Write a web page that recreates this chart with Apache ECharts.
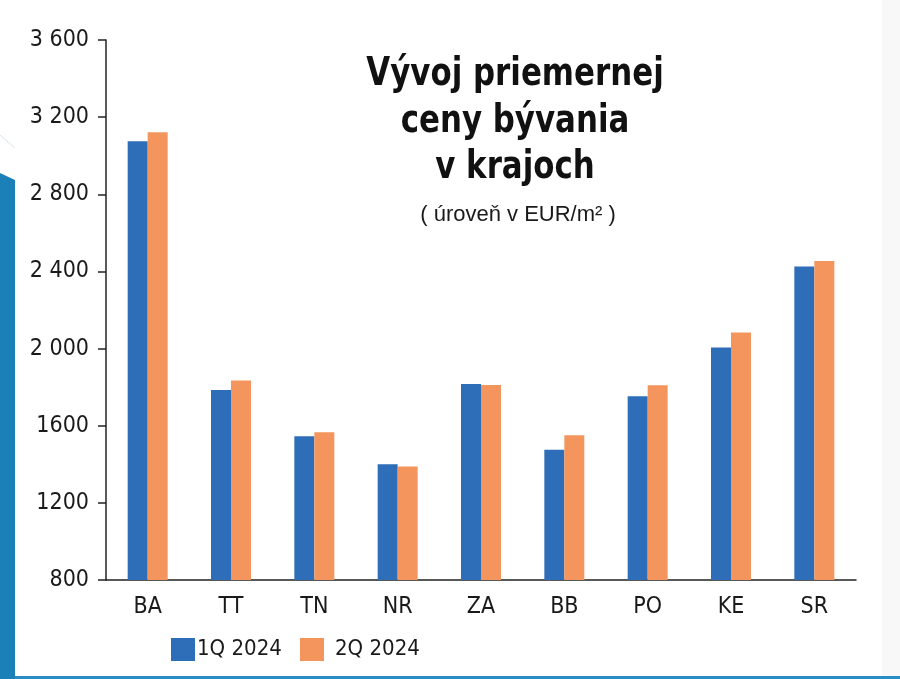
<!DOCTYPE html>
<html>
<head>
<meta charset="utf-8">
<style>
html,body{margin:0;padding:0;background:#fff;}
#chart{width:900px;height:679px;}
</style>
<script src="https://cdn.jsdelivr.net/npm/echarts@6/dist/echarts.min.js"></script>
</head>
<body>
<div id="chart"></div>
<script>
// ---- data ----
const categories = ['BA', 'TT', 'TN', 'NR', 'ZA', 'BB', 'PO', 'KE', 'SR'];
const q1_2024 = [3075, 1785, 1545, 1400, 1816, 1476, 1753, 2006, 2425];
const q2_2024 = [3122, 1834, 1566, 1388, 1811, 1550, 1810, 2083, 2454];
const seriesNames = ['1Q 2024', '2Q 2024'];
const yTickLabels = ['800', '1200', '1600', '2 000', '2 400', '2 800', '3 200', '3 600'];
const titleLines = ['Vývoj priemernej', 'ceny bývania', 'v krajoch'];
const subtitle = '( úroveň v EUR/m² )';

const NARROW = '"DejaVu Sans Condensed", "Liberation Sans Narrow", "Liberation Sans", sans-serif';
const REG = '"Liberation Sans", "DejaVu Sans", sans-serif';
const TXT = '#1a1a1a';
const BLUE = '#2e6db7';
const ORANGE = '#f4955e';

const chart = echarts.init(document.getElementById('chart'), null, {renderer: 'canvas'});

const titleY = [75, 122, 168];
const graphics = [
  {type: 'rect', shape: {x: 882, y: 0, width: 18, height: 676}, style: {fill: '#f8f8f8'}, z: -10},
  {type: 'polygon', shape: {points: [[0, 173], [15, 180], [15, 679], [0, 679]]}, style: {fill: '#1a80b7'}, z: -5},
  {type: 'line', shape: {x1: 0, y1: 135, x2: 15, y2: 148}, style: {stroke: '#d8e4ec', lineWidth: 1}, z: -5},
  {type: 'rect', shape: {x: 15, y: 676, width: 885, height: 3}, style: {fill: '#2a8cc4'}, z: -5}
];
titleLines.forEach((t, i) => {
  graphics.push({
    type: 'text', x: 515, y: titleY[i], scaleX: 0.88, z: 10,
    style: {text: t, fill: '#111', font: 'bold 39px ' + NARROW, textAlign: 'center', textVerticalAlign: 'middle'}
  });
});
graphics.push({
  type: 'text', x: 518, y: 215, z: 10,
  style: {text: subtitle, fill: TXT, font: '22px ' + REG, textAlign: 'center', textVerticalAlign: 'middle'}
});

const option = {
  backgroundColor: '#ffffff',
  animation: false,
  graphic: graphics,
  grid: {left: 106, right: 44, top: 40, bottom: 99, containLabel: false},
  legend: [
    {
      data: [seriesNames[0]], left: 171, top: 638, padding: 0,
      itemWidth: 24, itemHeight: 23, icon: 'rect',
      textStyle: {fontFamily: NARROW, fontSize: 22, color: TXT, padding: [0, 0, 0, -3]}
    },
    {
      data: [seriesNames[1]], left: 300, top: 638, padding: 0,
      itemWidth: 24, itemHeight: 23, icon: 'rect',
      textStyle: {fontFamily: NARROW, fontSize: 22, color: TXT, padding: [0, 0, 0, 6]}
    }
  ],
  xAxis: {
    type: 'category',
    data: categories,
    axisTick: {show: false},
    axisLine: {lineStyle: {color: '#222', width: 1.5}},
    axisLabel: {fontFamily: NARROW, fontSize: 23, color: TXT, margin: 16}
  },
  yAxis: {
    type: 'value',
    min: 800, max: 3600, interval: 400,
    splitLine: {show: false},
    axisLine: {show: true, lineStyle: {color: '#222', width: 1.5}},
    axisTick: {show: true, length: 8, lineStyle: {color: '#222', width: 1.5}},
    axisLabel: {
      fontFamily: NARROW, fontSize: 23, color: TXT, margin: 17,
      formatter: v => yTickLabels[Math.round((v - 800) / 400)]
    }
  },
  series: [
    {name: seriesNames[0], type: 'bar', data: q1_2024, barWidth: 20, barGap: '0%', itemStyle: {color: BLUE}},
    {name: seriesNames[1], type: 'bar', data: q2_2024, barWidth: 20, barGap: '0%', itemStyle: {color: ORANGE}}
  ]
};
chart.setOption(option);
</script>
</body>
</html>
